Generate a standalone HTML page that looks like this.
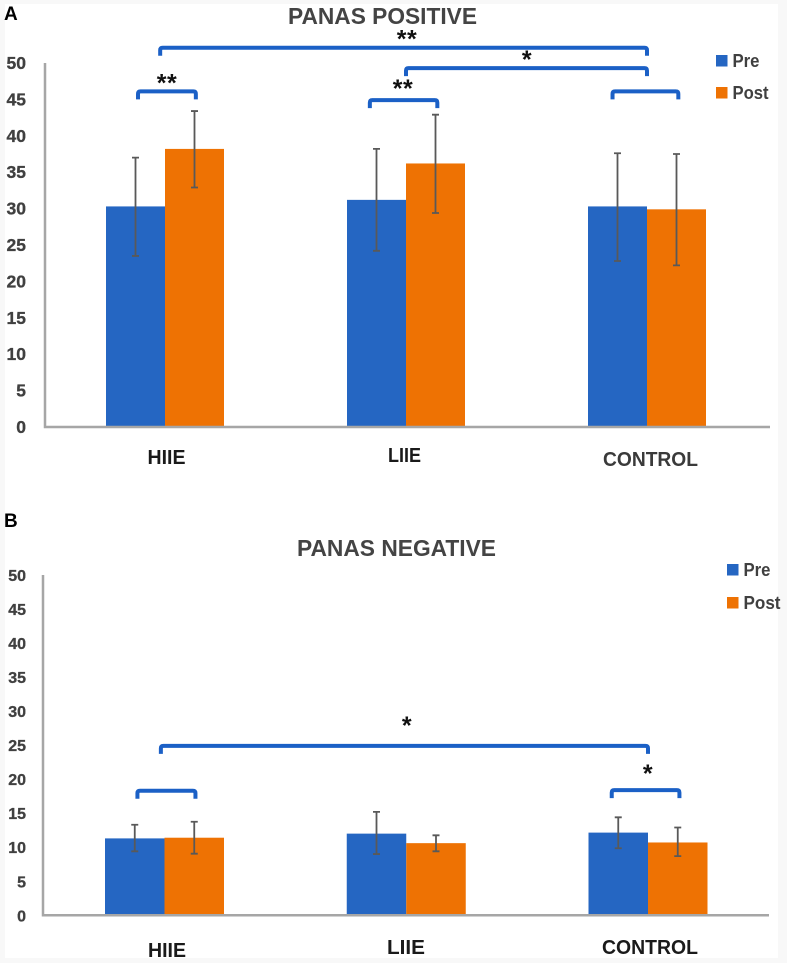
<!DOCTYPE html>
<html lang="en">
<head>
<meta charset="utf-8">
<title>PANAS Positive and Negative</title>
<style>
html,body{margin:0;padding:0;background:#f8f8f8;}
svg{display:block;font-family:"Liberation Sans",sans-serif;}
</style>
</head>
<body>
<svg id="figure" xmlns="http://www.w3.org/2000/svg" width="787" height="963" viewBox="0 0 787 963">
  <rect x="5" y="4" width="773" height="954" fill="#ffffff"/>
  <text x="4" y="20" font-size="19" font-weight="700" fill="#000">A</text>
  <text x="4" y="527" font-size="19" font-weight="700" fill="#000">B</text>
</svg>
<script>
// Shared chart data
const categories = ['HIIE', 'LIIE', 'CONTROL'];
const seriesNames = ['Pre', 'Post'];
const tickLabels = [0, 5, 10, 15, 20, 25, 30, 35, 40, 45, 50];

// Panel A: PANAS positive
const positivePre = [30.3, 31.2, 30.3];
const positivePost = [38.2, 36.2, 29.9];
const positivePreErrLow = [23.5, 24.2, 22.8];
const positivePreErrHigh = [37.0, 38.2, 37.6];
const positivePostErrLow = [32.9, 29.4, 22.2];
const positivePostErrHigh = [43.4, 42.9, 37.5];

// Panel B: PANAS negative
const negativePre = [11.3, 12.0, 12.15];
const negativePost = [11.4, 10.6, 10.7];
const negativePreErrLow = [9.4, 9.0, 9.85];
const negativePreErrHigh = [13.3, 15.2, 14.4];
const negativePostErrLow = [9.05, 9.4, 8.7];
const negativePostErrHigh = [13.75, 11.75, 12.9];

// Significance annotations: group position (fractional category index) and height in axis units
const positiveBracketFrom = [-0.02, 1.0, -0.112, 0.85, 1.857];
const positiveBracketTo = [2.0, 2.0, 0.128, 1.13, 2.13];
const positiveBracketLevel = [52.1, 49.3, 46.1, 44.9, 46.1];
const positiveBracketMark = ['**', '*', '**', '**', ''];
const negativeBracketFrom = [-0.015, -0.112, 1.85];
const negativeBracketTo = [2.0, 0.128, 2.13];
const negativeBracketLevel = [24.9, 18.3, 18.4];
const negativeBracketMark = ['*', '', '*'];

const NS = 'http://www.w3.org/2000/svg';
const figure = document.getElementById('figure');

function make(tag, attrs, parent, text) {
  const el = document.createElementNS(NS, tag);
  for (const k in attrs) el.setAttribute(k, attrs[k]);
  if (text !== undefined) el.textContent = text;
  parent.appendChild(el);
  return el;
}

function drawChart(c) {
  const group = make('g', {}, figure);
  
  

  const yScale = v => c.y0 - v * (c.y0 - c.y50) / 50;
  const xScale = i => c.xFirst + i * (c.xLast - c.xFirst) / (categories.length - 1);

  const title = make('text', {x: c.titleX, y: c.titleY, 'font-size': 23.5, 'font-weight': 700, fill: '#444', textLength: c.titleW, lengthAdjust: 'spacingAndGlyphs'}, group, c.title);
  
  

  tickLabels.forEach(t => {
    const label = make('text', {x: 26, y: yScale(t) + c.tickDy, 'text-anchor': 'end', 'font-size': c.tickSize, 'font-weight': 700, fill: '#404040', stroke: '#404040', 'stroke-width': 0.3}, group, String(t));
    
    
  });

  const series = [
    {values: c.pre, low: c.preLow, high: c.preHigh, color: '#2566c2', dir: -1},
    {values: c.post, low: c.postLow, high: c.postHigh, color: '#ee7203', dir: 1}
  ];
  series.forEach((s, si) => {
    s.values.forEach((v, i) => {
      const left = s.dir < 0 ? xScale(i) - c.barW : xScale(i);
      const bar = make('rect', {x: left, y: yScale(v), width: c.barW, height: yScale(0) - yScale(v), fill: s.color}, group);
      
      
    });
  });

  series.forEach((s, si) => {
    s.values.forEach((v, i) => {
      const cx = xScale(i) + s.dir * c.barW / 2;
      const top = yScale(s.high[i]);
      const bottom = yScale(s.low[i]);
      const err = make('path', {d: 'M' + cx + ' ' + top + 'V' + bottom + 'M' + (cx - 3.5) + ' ' + top + 'H' + (cx + 3.5) + 'M' + (cx - 3.5) + ' ' + bottom + 'H' + (cx + 3.5), stroke: '#595959', 'stroke-width': 1.8, fill: 'none'}, group);
      
      
    });
  });

  const axes = make('path', {d: 'M' + c.axisX + ' ' + yScale(50) + 'V' + yScale(0) + 'H' + c.axisEnd, stroke: '#a6a6a6', 'stroke-width': 2.5, fill: 'none'}, group);
  
  

  categories.forEach((name, i) => {
    const label = make('text', {x: c.catX[i], y: c.catY[i], 'font-size': 20, 'font-weight': 700, fill: i === 2 && c.key === 'positive' ? '#3a3a3a' : '#1a1a1a', textLength: c.catW[i], lengthAdjust: 'spacingAndGlyphs'}, group, name);
    
    
  });

  c.bFrom.forEach((from, i) => {
    const x1 = xScale(from);
    const x2 = xScale(c.bTo[i]);
    const y = yScale(c.bLevel[i]);
    const d = 'M' + x1 + ' ' + (y + 8) + 'V' + (y + 2.5) + 'Q' + x1 + ' ' + y + ' ' + (x1 + 2.5) + ' ' + y + 'H' + (x2 - 2.5) + 'Q' + x2 + ' ' + y + ' ' + x2 + ' ' + (y + 2.5) + 'V' + (y + 8);
    const bracket = make('path', {d: d, stroke: '#1b60c6', 'stroke-width': 4, fill: 'none'}, group);
    
    
    if (c.bMark[i]) {
      const star = make('text', {x: c.markX[i], y: y - c.markDy[i], 'text-anchor': 'middle', 'font-size': 25, 'font-weight': 700, fill: '#111', 'letter-spacing': '0.5'}, group, c.bMark[i]);
      
      
    }
  });

  seriesNames.forEach((name, i) => {
    const swatch = make('rect', {x: c.legendX, y: c.legendY[i], width: 11.5, height: 11.5, fill: series[i].color}, group);
    
    
    const text = make('text', {x: c.legendX + 16.5, y: c.legendY[i] + 12, 'font-size': 18.5, 'font-weight': 700, fill: '#404040', textLength: c.legendW[i], lengthAdjust: 'spacingAndGlyphs'}, group, name);
    
    
  });
}

drawChart({
  key: 'positive', title: 'PANAS POSITIVE', titleX: 288, titleY: 24, titleW: 189,
  y0: 427, y50: 63, axisX: 45, axisEnd: 770, xFirst: 165, xLast: 647, barW: 59,
  tickSize: 17.5, tickDy: 6,
  pre: positivePre, post: positivePost,
  preLow: positivePreErrLow, preHigh: positivePreErrHigh,
  postLow: positivePostErrLow, postHigh: positivePostErrHigh,
  catX: [147.5, 388, 603], catY: [464, 462, 466], catW: [38, 33, 95],
  bFrom: positiveBracketFrom, bTo: positiveBracketTo, bLevel: positiveBracketLevel, bMark: positiveBracketMark,
  markX: [407, 527, 167, 403, 0], markDy: [0, 0, 0, 3, 0],
  legendX: 716, legendY: [55, 87], legendW: [27, 36]
});

drawChart({
  key: 'negative', title: 'PANAS NEGATIVE', titleX: 297, titleY: 556, titleW: 199,
  y0: 915.3, y50: 575, axisX: 43, axisEnd: 769, xFirst: 164.5, xLast: 648, barW: 59.5,
  tickSize: 16, tickDy: 6,
  pre: negativePre, post: negativePost,
  preLow: negativePreErrLow, preHigh: negativePreErrHigh,
  postLow: negativePostErrLow, postHigh: negativePostErrHigh,
  catX: [148, 387, 602], catY: [957, 954, 954], catW: [38, 38, 96],
  bFrom: negativeBracketFrom, bTo: negativeBracketTo, bLevel: negativeBracketLevel, bMark: negativeBracketMark,
  markX: [407, 0, 648], markDy: [12, 0, 8],
  legendX: 727, legendY: [564, 597], legendW: [27, 37]
});
</script>
</body>
</html>
